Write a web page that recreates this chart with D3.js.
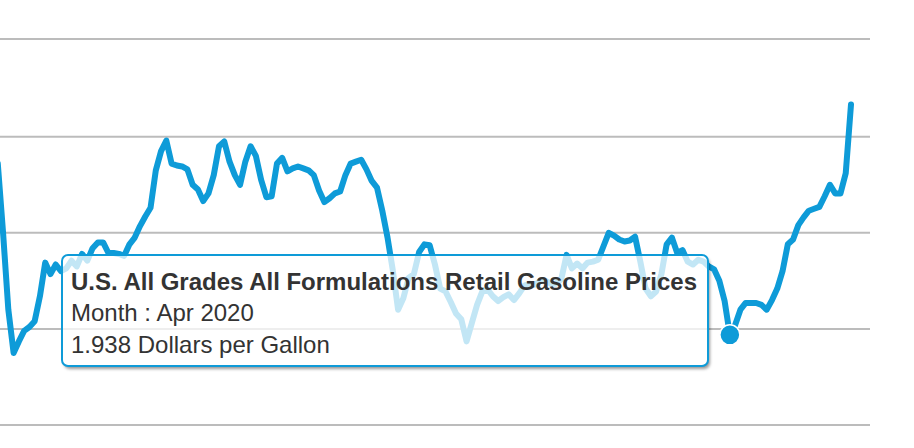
<!DOCTYPE html>
<html>
<head>
<meta charset="utf-8">
<script src="https://cdn.jsdelivr.net/npm/d3@7"></script>
<style>
  html, body { margin: 0; padding: 0; background: #fff; }
  svg { display: block; }
  text { font-family: "Liberation Sans", Arial, sans-serif; fill: #333; }
</style>
</head>
<body>
<div id="chart"></div>
<script>
const width = 914;
const height = 448;

// monthly price, dollars per gallon, Sep 2008 to Mar 2022
const firstMonth = new Date(Date.UTC(2008, 8, 1));
const lastMonth = new Date(Date.UTC(2022, 2, 1));
const prices2008 = [3.72, 3.0, 2.2, 1.75];
const prices2009 = [1.87, 1.98, 2.02, 2.08, 2.34, 2.69, 2.57, 2.67, 2.6, 2.63, 2.71, 2.65];
const prices2010 = [2.78, 2.71, 2.84, 2.9, 2.9, 2.79, 2.79, 2.78, 2.76, 2.88, 2.95, 3.07];
const prices2011 = [3.17, 3.26, 3.65, 3.85, 3.96, 3.72, 3.7, 3.69, 3.66, 3.5, 3.45, 3.33];
const prices2012 = [3.41, 3.6, 3.9, 3.95, 3.74, 3.6, 3.5, 3.74, 3.9, 3.8, 3.55, 3.37];
const prices2013 = [3.38, 3.72, 3.78, 3.64, 3.67, 3.69, 3.67, 3.65, 3.6, 3.44, 3.32, 3.36];
const prices2014 = [3.41, 3.43, 3.6, 3.72, 3.74, 3.76, 3.66, 3.54, 3.47, 3.23, 2.95, 2.61];
const prices2015 = [2.2, 2.32, 2.53, 2.57, 2.8, 2.88, 2.87, 2.67, 2.42, 2.39, 2.28, 2.16];
const prices2016 = [2.1, 1.87, 2.06, 2.25, 2.39, 2.41, 2.34, 2.29, 2.33, 2.36, 2.3, 2.37];
const prices2017 = [2.45, 2.47, 2.46, 2.5, 2.5, 2.47, 2.47, 2.52, 2.77, 2.63, 2.68, 2.63];
const prices2018 = [2.69, 2.7, 2.72, 2.86, 3.0, 2.97, 2.93, 2.91, 2.92, 2.96, 2.7, 2.42];
const prices2019 = [2.34, 2.39, 2.57, 2.88, 2.95, 2.79, 2.82, 2.7, 2.67, 2.72, 2.7, 2.65];
const prices2020 = [2.62, 2.5, 2.29, 1.938, 2.04, 2.2, 2.27, 2.27, 2.27, 2.25, 2.2, 2.3];
const prices2021 = [2.42, 2.6, 2.88, 2.93, 3.08, 3.16, 3.23, 3.25, 3.27, 3.38, 3.5, 3.41];
const prices2022 = [3.41, 3.62, 4.33];

const yTicks = [1, 2, 3, 4, 5];
const seriesName = "U.S. All Grades All Formulations Retail Gasoline Prices";
const activeMonth = "Apr 2020";
const unitLabel = "Dollars per Gallon";

const prices = [].concat(prices2008, prices2009, prices2010, prices2011, prices2012,
    prices2013, prices2014, prices2015, prices2016, prices2017, prices2018,
    prices2019, prices2020, prices2021, prices2022);
const formatMonth = d3.utcFormat("%b %Y");
const months = d3.utcMonth.range(firstMonth, d3.utcMonth.offset(lastMonth, 1)).map(formatMonth);
const data = months.map((month, i) => ({ month: month, price: prices[i] }));

const svg = d3.select("#chart")
    .append("svg")
    .attr("width", width)
    .attr("height", height);

// shadow only, cut out under the box so the fill stays see-through
const shadow = svg.append("defs")
    .append("filter")
    .attr("id", "tip-shadow")
    .attr("x", "-5%").attr("y", "-10%")
    .attr("width", "110%").attr("height", "125%");
shadow.append("feGaussianBlur")
    .attr("in", "SourceAlpha")
    .attr("stdDeviation", 1.8)
    .attr("result", "blur");
shadow.append("feOffset")
    .attr("in", "blur")
    .attr("dx", 1.5).attr("dy", 2.5)
    .attr("result", "moved");
shadow.append("feFlood")
    .attr("flood-color", "#000")
    .attr("flood-opacity", 0.4)
    .attr("result", "tint");
shadow.append("feComposite")
    .attr("in", "tint")
    .attr("in2", "moved")
    .attr("operator", "in")
    .attr("result", "dark");
shadow.append("feComposite")
    .attr("in", "dark")
    .attr("in2", "SourceAlpha")
    .attr("operator", "out");

const xScale = d3.scalePoint()
    .domain(months)
    .range([-2.2, 851]);

const yScale = d3.scaleLinear()
    .domain([1, 4, 5])
    .range([425, 136.7, 39]);

// gridlines, no labels are visible in this crop of the chart
svg.append("g")
    .attr("id", "y-grid")
    .call(d3.axisRight(yScale).offset(0).tickValues(yTicks).tickSize(870).tickFormat(""))
    .call(g => g.select(".domain").remove())
    .selectAll("line")
    .attr("stroke", "#bcbcbc")
    .attr("stroke-width", 2);

svg.append("path")
    .datum(data)
    .attr("fill", "none")
    .attr("stroke", "#0e9bd8")
    .attr("stroke-width", 6)
    .attr("stroke-linejoin", "round")
    .attr("stroke-linecap", "round")
    .attr("d", d3.line()
        .x(d => xScale(d.month))
        .y(d => yScale(d.price))
    );

const active = data.find(d => d.month === activeMonth);

svg.append("circle")
    .attr("cx", xScale(active.month))
    .attr("cy", yScale(active.price))
    .attr("r", 10)
    .attr("fill", "#0e9bd8")
    .attr("stroke", "#fff")
    .attr("stroke-width", 1.5);

// Tooltip
const tooltip = svg.append("g")
    .attr("id", "tooltip")
    .attr("transform", "translate(62, 255)");

tooltip.append("rect")
    .attr("width", 646)
    .attr("height", 111)
    .attr("rx", 6)
    .attr("filter", "url(#tip-shadow)");

tooltip.append("rect")
    .attr("width", 646)
    .attr("height", 111)
    .attr("rx", 6)
    .attr("fill", "#fff")
    .attr("fill-opacity", 0.75)
    .attr("stroke", "#0e9bd8")
    .attr("stroke-width", 2);

tooltip.append("text")
    .attr("x", 9)
    .attr("y", 35)
    .attr("font-size", 24)
    .attr("font-weight", "bold")
    .attr("textLength", 626)
    .text(seriesName);

tooltip.append("text")
    .attr("x", 9)
    .attr("y", 66)
    .attr("font-size", 24)
    .text("Month : " + active.month);

tooltip.append("text")
    .attr("x", 9)
    .attr("y", 98)
    .attr("font-size", 24)
    .text(active.price.toFixed(3) + " " + unitLabel);
</script>
</body>
</html>
